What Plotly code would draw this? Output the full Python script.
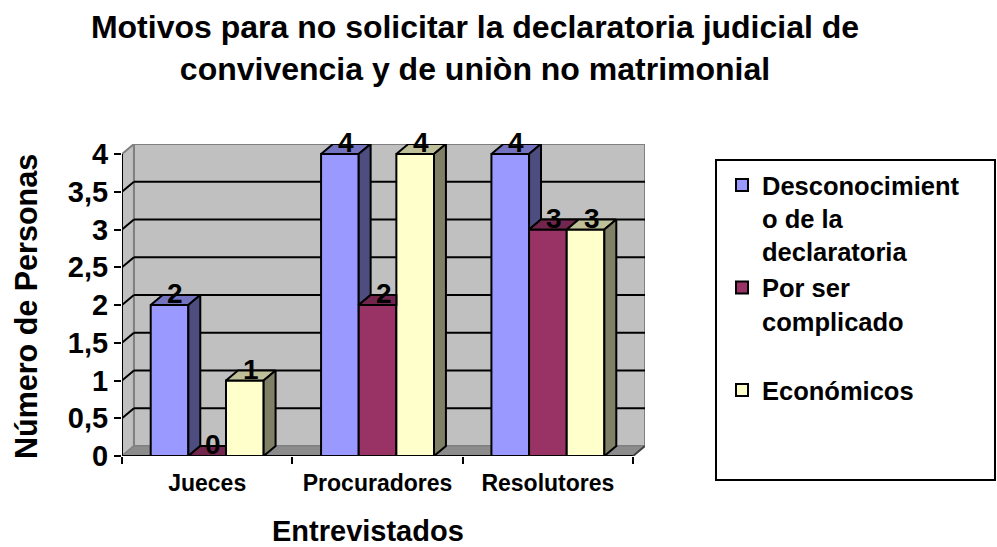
import plotly.graph_objects as go

# ---- data ----
categories = ["Jueces", "Procuradores", "Resolutores"]
series_names = [
    "Desconocimient<br>o de la<br>declaratoria",
    "Por ser<br>complicado<br> ",
    "Económicos",
]
desconocimiento = [2, 4, 4]
complicado = [0, 2, 3]
economicos = [1, 4, 3]
values = [desconocimiento, complicado, economicos]
y_tick_vals = [0, 0.5, 1, 1.5, 2, 2.5, 3, 3.5, 4]
y_tick_text = ["0", "0,5", "1", "1,5", "2", "2,5", "3", "3,5", "4"]
title_text = ("Motivos para no solicitar la declaratoria judicial de<br>"
              "convivencia y de uniòn no matrimonial")
x_title = "Entrevistados"
y_title = "Número de Personas"

# ---- style ----
FONT = "Liberation Sans, Arial, sans-serif"
front = ["#9999FF", "#993366", "#FFFFCC"]
side = ["#4D4D80", "#4D1A33", "#808066"]
top = ["#7373BF", "#73264D", "#BFBF99"]
BW = 0.221      # bar width (category units)
DX = 0.07       # 3-D depth, x units
DY = 0.1325     # 3-D depth, y units
YMAX = 4

W, H = 997, 547
L, R, T, B = 122, 352, 144, 91
pw, ph = W - L - R, H - T - B


def px_x(p):
    return (p - L) / pw


def px_y(p):
    return (H - B - p) / ph


def bold(size):
    return dict(family=FONT, size=size, color="black", weight="bold")


x_idx = list(range(len(categories)))
fig = go.Figure()

# front faces
for k, (name, vals) in enumerate(zip(series_names, values)):
    fig.add_trace(go.Bar(
        x=x_idx, y=vals, width=BW, offset=(k - 1.5) * BW, name=name,
        marker=dict(color=front[k], line=dict(color="black", width=2)),
        hoverinfo="skip",
    ))

# top and side faces (computed from the values)
labels = []
for i in x_idx:
    for k in range(len(values)):
        h = values[k][i]
        xl = i + (k - 1.5) * BW
        xr = xl + BW
        hn = values[k + 1][i] if k < len(values) - 1 else None
        if hn is not None and hn > h:
            tx = [xl, xr, xr, xl + DX, xl]
        else:
            tx = [xl, xr, xr + DX, xl + DX, xl]
        ty = [h, h, h + DY, h + DY, h]
        fig.add_trace(go.Scatter(
            x=tx, y=ty, mode="lines", fill="toself", fillcolor=top[k],
            line=dict(color="black", width=2), showlegend=False,
            hoverinfo="skip"))
        b = 0 if hn is None else hn
        if b < h:
            fig.add_trace(go.Scatter(
                x=[xr, xr + DX, xr + DX, xr, xr],
                y=[b, b + DY, h + DY, h, b],
                mode="lines", fill="toself", fillcolor=side[k],
                line=dict(color="black", width=2), showlegend=False,
                hoverinfo="skip"))
        labels.append(dict(text=str(h), xref="x", yref="y",
                           x=xl + BW / 2 + DX / 2, y=h, xanchor="center",
                           yanchor="bottom", yshift=-6, showarrow=False,
                           font=bold(28)))

shapes = []
# back wall
shapes.append(dict(type="rect", xref="x", yref="y", x0=-0.5 + DX, x1=2.5 + DX,
                   y0=DY, y1=YMAX + DY, fillcolor="#C0C0C0",
                   line=dict(color="#808080", width=2), layer="below"))
# side wall
shapes.append(dict(type="path", xref="x", yref="y",
                   path=f"M -0.5,0 L {-0.5 + DX},{DY} L {-0.5 + DX},{YMAX + DY} L -0.5,{YMAX} Z",
                   fillcolor="#C0C0C0", line=dict(color="#808080", width=2), layer="below"))
# floor
shapes.append(dict(type="path", xref="x", yref="y",
                   path=f"M -0.5,0 L 2.5,0 L {2.5 + DX},{DY} L {-0.5 + DX},{DY} Z",
                   fillcolor="#8C8C8C", line=dict(color="#808080", width=1), layer="below"))
# gridlines on walls
for v in y_tick_vals[1:-1]:
    shapes.append(dict(type="line", xref="x", yref="y", x0=-0.5 + DX, x1=2.5 + DX,
                       y0=v + DY, y1=v + DY, line=dict(color="black", width=2), layer="below"))
    shapes.append(dict(type="line", xref="x", yref="y", x0=-0.5, x1=-0.5 + DX,
                       y0=v, y1=v + DY, line=dict(color="black", width=2), layer="below"))
# axis lines
shapes.append(dict(type="line", xref="x", yref="y", x0=-0.5, x1=2.5, y0=0, y1=0,
                   line=dict(color="black", width=2), layer="above"))
shapes.append(dict(type="line", xref="x", yref="y", x0=2.5, x1=2.5 + DX, y0=0, y1=DY,
                   line=dict(color="#404040", width=2), layer="above"))
shapes.append(dict(type="line", xref="x", yref="y", x0=-0.5, x1=-0.5, y0=0, y1=YMAX,
                   line=dict(color="black", width=2), layer="above"))
# legend box
shapes.append(dict(type="rect", xref="paper", yref="paper",
                   x0=px_x(716), x1=px_x(995), y0=px_y(480), y1=px_y(160),
                   fillcolor="white", line=dict(color="black", width=2), layer="below"))

fig.update_layout(
    width=W, height=H, autosize=False,
    margin=dict(l=L, r=R, t=T, b=B),
    paper_bgcolor="white", plot_bgcolor="white",
    barmode="overlay",
    separators=",.",
    font=dict(family=FONT, color="black", weight="bold"),
    title=dict(text=title_text, xref="container", yref="container",
               x=475 / W, xanchor="center", y=1 - 38 / H, yanchor="top",
               font=bold(32)),
    xaxis=dict(range=[-0.5, 2.5 + DX], tickvals=x_idx, ticktext=categories,
               ticks="", showgrid=False, zeroline=False, showline=False,
               ticklabelstandoff=11, tickfont=bold(23),
               minor=dict(tickvals=[-0.5, 0.5, 1.5, 2.5], ticks="outside",
                          ticklen=7, tickwidth=2, tickcolor="black", showgrid=False),
               fixedrange=True),
    yaxis=dict(range=[0, YMAX + DY], tickvals=y_tick_vals, ticktext=y_tick_text,
               ticks="outside", ticklen=7, tickwidth=2, tickcolor="black",
               showgrid=False, zeroline=False, showline=False,
               ticklabelstandoff=0, tickfont=bold(29),
               fixedrange=True),
    legend=dict(x=px_x(722), xanchor="left", y=px_y(162), yanchor="top",
                bgcolor="rgba(0,0,0,0)", borderwidth=0, valign="top",
                font=bold(25.5), tracegroupgap=0),
    annotations=labels + [
        dict(text=x_title, xref="paper", yref="paper", x=px_x(368), y=px_y(531),
             xanchor="center", yanchor="middle", showarrow=False, font=bold(29)),
        dict(text=y_title, xref="paper", yref="paper", x=px_x(26), y=px_y(307),
             xanchor="center", yanchor="middle", showarrow=False, textangle=-90,
             font=bold(30.5)),
    ],
    shapes=shapes,
)

fig.write_html("out.html",
               config={"displayModeBar": False},
               post_script="document.body.style.margin='0';"
                           "document.body.style.overflow='hidden';")
